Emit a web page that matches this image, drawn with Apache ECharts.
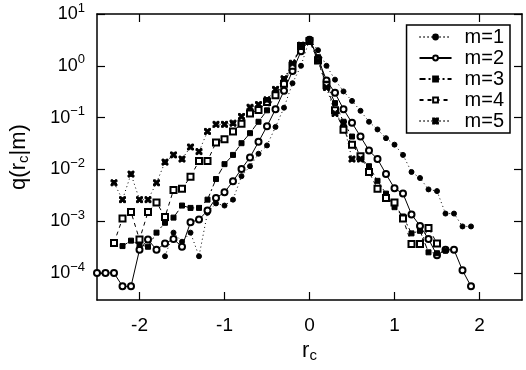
<!DOCTYPE html>
<html>
<head>
<meta charset="utf-8">
<script src="https://cdn.jsdelivr.net/npm/echarts@6/dist/echarts.min.js"></script>
<style>
html, body { margin: 0; padding: 0; background: #fff; }
#chart { width: 526px; height: 370px; }
</style>
</head>
<body>
<div id="chart"></div>
<script>
// tick positions
var xTicks = [-2, -1, 0, 1, 2];
var yTicks = [1e-4, 1e-3, 1e-2, 1e-1, 1, 10];

// m=1
var x1 = [-1.7, -1.6, -1.5, -1.4, -1.3, -1.2, -1.1, -1.0, -0.9, -0.8, -0.7, -0.6, -0.5, -0.4, -0.3, -0.2, -0.1,
    0, 0.1, 0.2, 0.3, 0.4, 0.5, 0.6, 0.7, 0.8, 0.9, 1.0, 1.1, 1.2, 1.3, 1.4, 1.5, 1.6, 1.7, 1.8, 1.9];
var q1 = [2.1e-4, 6.0e-4, 4.0e-4, 6.0e-4, 2.1e-4, 1.45e-3, 2.2e-3, 2.0e-3, 2.6e-3, 7.4e-3, 0.0115, 0.020, 0.029, 0.066, 0.155, 0.46, 1.0,
    3.2, 2.0, 1.0, 0.54, 0.32, 0.21, 0.135, 0.083, 0.059, 0.040, 0.030, 0.019, 0.0089, 0.0068, 0.0041, 0.0038, 0.0014, 0.0014, 7.9e-4, 7.9e-4];

// m=2
var x2 = [-2.5, -2.4, -2.3, -2.2, -2.1, -2.0, -1.9, -1.8, -1.7, -1.6, -1.5, -1.4, -1.3, -1.2, -1.1, -1.0, -0.9, -0.8, -0.7, -0.6, -0.5, -0.4, -0.3, -0.2, -0.1,
    0, 0.1, 0.2, 0.3, 0.4, 0.5, 0.6, 0.7, 0.8, 0.9, 1.0, 1.1, 1.2, 1.3, 1.4, 1.5, 1.6, 1.7, 1.8, 1.9];
var q2 = [1e-4, 1e-4, 1e-4, 5.5e-5, 5.5e-5, 2.8e-4, 4.4e-4, 2.8e-4, 3.7e-4, 4.5e-4, 3.2e-4, 9.5e-4, 1.07e-3, 1.6e-3, 2.8e-3, 3.6e-3, 5.9e-3, 0.0102, 0.017, 0.034, 0.068, 0.145, 0.33, 0.79, 1.9,
    3.2, 1.4, 0.52, 0.30, 0.145, 0.079, 0.043, 0.023, 0.0158, 0.0081, 0.0043, 0.0034, 0.00135, 8.1e-4, 4.5e-4, 2.2e-4, 2.8e-4, 2.8e-4, 1.12e-4, 5.5e-5];

// m=3
var x3 = [-2.2, -2.1, -2.0, -1.9, -1.8, -1.7, -1.6, -1.5, -1.4, -1.3, -1.2, -1.1, -1.0, -0.9, -0.8, -0.7, -0.6, -0.5, -0.4, -0.3, -0.2, -0.1,
    0, 0.1, 0.2, 0.3, 0.4, 0.5, 0.6, 0.7, 0.8, 0.9, 1.0, 1.1, 1.2, 1.3, 1.4, 1.5, 1.6];
var q3 = [3.3e-4, 4.2e-4, 3.5e-4, 3.2e-4, 6.0e-4, 9.3e-4, 1.17e-3, 2.0e-3, 1.8e-3, 1.8e-3, 2.6e-3, 6.5e-3, 0.0126, 0.019, 0.032, 0.050, 0.083, 0.138, 0.28, 0.52, 1.05, 2.4,
    3.2, 1.45, 0.45, 0.19, 0.083, 0.043, 0.0166, 0.0115, 0.006, 0.0034, 0.00186, 0.00123, 5.8e-4, 6.5e-4, 2.5e-4, 2.4e-4, 2.7e-4];

// m=4
var x4 = [-2.3, -2.2, -2.1, -2.0, -1.9, -1.8, -1.7, -1.6, -1.5, -1.4, -1.3, -1.2, -1.1, -1.0, -0.9, -0.8, -0.7, -0.6, -0.5, -0.4, -0.3, -0.2, -0.1,
    0, 0.1, 0.2, 0.3, 0.4, 0.5, 0.6, 0.7, 0.8, 0.9, 1.0, 1.1, 1.2, 1.3, 1.4, 1.5];
var q4 = [3.8e-4, 1.12e-3, 1.5e-3, 4.4e-4, 1.5e-3, 2.3e-3, 1.2e-3, 4.0e-3, 4.2e-3, 7.2e-3, 0.0145, 0.0145, 0.033, 0.038, 0.054, 0.076, 0.12, 0.14, 0.20, 0.27, 0.45, 1.0, 2.4,
    3.0, 1.26, 0.42, 0.138, 0.058, 0.030, 0.018, 0.0089, 0.0042, 0.0028, 0.0023, 0.00112, 3.6e-4, 3.6e-4, 7.4e-4, 3.7e-4];

// m=5
var x5 = [-2.3, -2.2, -2.1, -2.0, -1.9, -1.8, -1.7, -1.6, -1.5, -1.4, -1.3, -1.2, -1.1, -1.0, -0.9, -0.8, -0.7, -0.6, -0.5, -0.4, -0.3, -0.2, -0.1,
    0, 0.1, 0.2, 0.3, 0.4, 0.5, 0.6];
var q5 = [5.5e-3, 2.6e-3, 8.1e-3, 2.6e-3, 2.6e-3, 5.5e-3, 0.0138, 0.019, 0.0158, 0.027, 0.022, 0.054, 0.074, 0.074, 0.078, 0.105, 0.158, 0.178, 0.22, 0.35, 0.56, 1.12, 2.5,
    3.0, 1.26, 0.38, 0.12, 0.076, 0.0158, 0.0158];

var FONT = "'Liberation Sans', Arial, sans-serif";
var starPath = 'path://M0,0H3L5,2L7,0H10V3L8,5L10,7V10H7L5,8L3,10H0V7L2,5L0,3Z';

function pairs(xs, ys) {
    return xs.map(function (x, i) { return [x, ys[i]]; });
}

function expLabel(v) {
    var e = Math.round(Math.log10(v));
    return '{b|10}{sup|' + String(e).replace('-', '\u2212') + '}';
}

var chart = echarts.init(document.getElementById('chart'));

var frameLine = { show: true, onZero: false, lineStyle: { color: '#000', width: 1.5 } };
var tickIn = { inside: true, length: 8, lineStyle: { color: '#000', width: 1.2 } };

function makeSeries(name, xs, ys, symbol, size, dash) {
    return {
        name: name,
        type: 'line',
        data: pairs(xs, ys),
        symbol: symbol,
        symbolSize: size,
        showAllSymbol: true,
        animation: false,
        lineStyle: { color: '#000', width: 1, type: dash },
        itemStyle: { color: '#000', borderColor: '#000', borderWidth: 1 }
    };
}

chart.setOption({
    backgroundColor: '#fff',
    grid: { left: 93, right: 4, top: 14, bottom: 70 },
    legend: {
        orient: 'vertical',
        right: 16,
        top: 25,
        itemWidth: 32,
        itemHeight: 6,
        itemGap: 1,
        padding: [2, 6, 2, 12],
        backgroundColor: '#fff',
        borderColor: '#000',
        borderWidth: 1.5,
        textStyle: { fontFamily: FONT, fontSize: 20, color: '#000', padding: [0, 0, 0, 8], lineHeight: 20 },
        data: ['m=1', 'm=2', 'm=3', 'm=4', 'm=5']
    },
    xAxis: [{
        type: 'value',
        min: -2.5,
        max: 2.5,
        axisLine: frameLine,
        axisTick: Object.assign({ customValues: xTicks }, tickIn),
        splitLine: { show: false },
        axisLabel: { customValues: xTicks, margin: 16, fontFamily: FONT, fontSize: 19, color: '#000' },
        name: 'r{sub|c}',
        nameLocation: 'middle',
        nameGap: 38,
        nameTextStyle: {
            fontFamily: FONT, fontSize: 22, color: '#000',
            rich: { sub: { fontFamily: FONT, fontSize: 15, color: '#000', padding: [9, 0, 0, 0] } }
        }
    }, {
        type: 'value',
        position: 'top',
        min: -2.5,
        max: 2.5,
        axisLine: frameLine,
        axisTick: Object.assign({ customValues: xTicks }, tickIn),
        splitLine: { show: false },
        axisLabel: { show: false }
    }],
    yAxis: [{
        type: 'log',
        logBase: 10,
        min: 3.0e-5,
        max: 10,
        axisLine: frameLine,
        axisTick: Object.assign({ customValues: yTicks }, tickIn),
        splitLine: { show: false },
        axisLabel: {
            customValues: yTicks,
            margin: 12,
            formatter: expLabel,
            rich: {
                b: { fontFamily: FONT, fontSize: 18, color: '#000' },
                sup: { fontFamily: FONT, fontSize: 13, color: '#000', padding: [0, 0, 12, 0] }
            }
        },
        name: 'q(r{sub|c}|m)',
        nameLocation: 'middle',
        nameGap: 66,
        nameTextStyle: {
            fontFamily: FONT, fontSize: 22, color: '#000',
            rich: { sub: { fontFamily: FONT, fontSize: 15, color: '#000', padding: [9, 0, 0, 0] } }
        }
    }, {
        type: 'log',
        logBase: 10,
        position: 'right',
        min: 3.0e-5,
        max: 10,
        axisLine: frameLine,
        axisTick: Object.assign({ customValues: yTicks }, tickIn),
        splitLine: { show: false },
        axisLabel: { show: false }
    }],
    series: [
        makeSeries('m=1', x1, q1, 'circle', 5, [1, 3]),
        makeSeries('m=2', x2, q2, 'emptyCircle', 6, 'solid'),
        makeSeries('m=3', x3, q3, 'rect', 5, [6, 3, 2, 3]),
        makeSeries('m=4', x4, q4, 'emptyRect', 6, [4, 4]),
        makeSeries('m=5', x5, q5, starPath, 6, [1, 3])
    ]
});
</script>
</body>
</html>
